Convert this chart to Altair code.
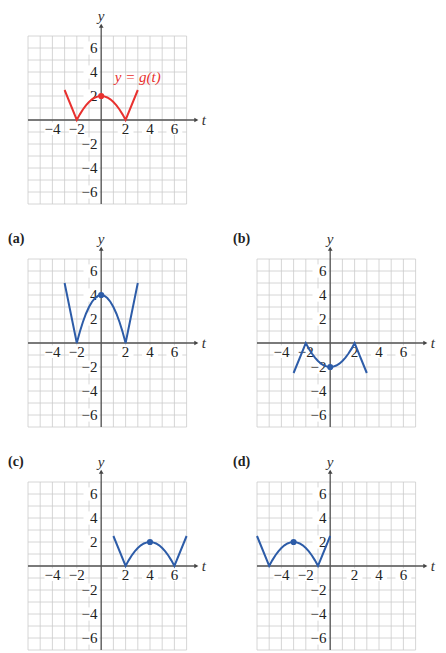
import altair as alt
import pandas as pd

# ---- data ----
g_t = [-3, -2, -1.75, -1.5, -1.25, -1, -0.75, -0.5, -0.25, 0, 0.25, 0.5, 0.75, 1, 1.25, 1.5, 1.75, 2, 3]
g_y = [2.5, 0, 0.47, 0.88, 1.22, 1.5, 1.72, 1.88, 1.97, 2, 1.97, 1.88, 1.72, 1.5, 1.22, 0.88, 0.47, 0, 2.5]

a_t = [-3, -2, -1.75, -1.5, -1.25, -1, -0.75, -0.5, -0.25, 0, 0.25, 0.5, 0.75, 1, 1.25, 1.5, 1.75, 2, 3]
a_y = [5, 0, 0.94, 1.75, 2.44, 3, 3.44, 3.75, 3.94, 4, 3.94, 3.75, 3.44, 3, 2.44, 1.75, 0.94, 0, 5]

b_t = [-3, -2, -1.75, -1.5, -1.25, -1, -0.75, -0.5, -0.25, 0, 0.25, 0.5, 0.75, 1, 1.25, 1.5, 1.75, 2, 3]
b_y = [-2.5, 0, -0.47, -0.88, -1.22, -1.5, -1.72, -1.88, -1.97, -2, -1.97, -1.88, -1.72, -1.5, -1.22, -0.88, -0.47, 0, -2.5]

c_t = [1, 2, 2.25, 2.5, 2.75, 3, 3.25, 3.5, 3.75, 4, 4.25, 4.5, 4.75, 5, 5.25, 5.5, 5.75, 6, 7]
c_y = [2.5, 0, 0.47, 0.88, 1.22, 1.5, 1.72, 1.88, 1.97, 2, 1.97, 1.88, 1.72, 1.5, 1.22, 0.88, 0.47, 0, 2.5]

d_t = [-6, -5, -4.75, -4.5, -4.25, -4, -3.75, -3.5, -3.25, -3, -2.75, -2.5, -2.25, -2, -1.75, -1.5, -1.25, -1, 0]
d_y = [2.5, 0, 0.47, 0.88, 1.22, 1.5, 1.72, 1.88, 1.97, 2, 1.97, 1.88, 1.72, 1.5, 1.22, 0.88, 0.47, 0, 2.5]

peaks = {"g": (0, 2), "a": (0, 4), "b": (0, -2), "c": (4, 2), "d": (-3, 2)}

x_ticks = [-4, -2, 2, 4, 6]
x_tick_labels = ["\u22124", "\u22122", "2", "4", "6"]
y_ticks = [6, 4, 2, -2, -4, -6]
y_tick_labels = ["6", "4", "2", "\u22122", "\u22124", "\u22126"]
grid_x = list(range(-6, 8))
grid_y = list(range(-7, 8))

RED = "#e8312f"
BLUE = "#2d5ca8"
UX = 12.2
UY = 12.0
FONT = "Liberation Serif"


def panel(ts, ys, peak, color, w, h, xoff, yoff, tag=None, tag_off=0, note=None):
    x0 = -6 - xoff / UX
    x1 = x0 + w / UX
    y1 = 7 + yoff / UY
    y0 = y1 - h / UY
    xs = alt.Scale(domain=[x0, x1], nice=False, zero=False)
    ysc = alt.Scale(domain=[y0, y1], nice=False, zero=False)

    def X(f):
        return alt.X(f, type="quantitative", scale=xs, axis=None)

    def Y(f):
        return alt.Y(f, type="quantitative", scale=ysc, axis=None)

    layers = []
    vg = pd.DataFrame({"x": grid_x, "y": -7, "y2": 7})
    layers.append(alt.Chart(vg).mark_rule(color="#cccccc", strokeWidth=0.8).encode(
        x=X("x"), y=Y("y"), y2="y2"))
    hg = pd.DataFrame({"y": grid_y, "x": -6, "x2": 7})
    layers.append(alt.Chart(hg).mark_rule(color="#cccccc", strokeWidth=0.8).encode(
        x=X("x"), x2="x2", y=Y("y")))

    # white boxes behind tick labels
    xb = pd.DataFrame({"x": [t - 0.65 for t in x_ticks], "x2": [t + 0.65 for t in x_ticks],
                       "y": -0.2, "y2": -1.25})
    layers.append(alt.Chart(xb).mark_rect(color="white").encode(
        x=X("x"), x2="x2", y=Y("y"), y2="y2"))
    yb = pd.DataFrame({"y": [t - 0.55 for t in y_ticks], "y2": [t + 0.55 for t in y_ticks],
                       "x": -1.45, "x2": -0.15})
    layers.append(alt.Chart(yb).mark_rect(color="white").encode(
        x=X("x"), x2="x2", y=Y("y"), y2="y2"))

    # axes
    ax = pd.DataFrame({"x": [-6], "x2": [7.8], "y": [0]})
    layers.append(alt.Chart(ax).mark_rule(color="#555555", strokeWidth=1.3).encode(
        x=X("x"), x2="x2", y=Y("y")))
    ay = pd.DataFrame({"y": [-7], "y2": [7.85], "x": [0]})
    layers.append(alt.Chart(ay).mark_rule(color="#555555", strokeWidth=1.3).encode(
        x=X("x"), y=Y("y"), y2="y2"))
    layers.append(alt.Chart(pd.DataFrame({"x": [7.8], "y": [0]})).mark_point(
        shape="triangle-right", filled=True, color="#444444", size=22, opacity=1).encode(
        x=X("x"), y=Y("y")))
    layers.append(alt.Chart(pd.DataFrame({"x": [0], "y": [7.85]})).mark_point(
        shape="triangle-up", filled=True, color="#444444", size=22, opacity=1).encode(
        x=X("x"), y=Y("y")))

    # tick labels
    xl = pd.DataFrame({"x": x_ticks, "y": -0.72, "lab": x_tick_labels})
    layers.append(alt.Chart(xl).mark_text(font=FONT, fontSize=15, color="#222222",
                                          baseline="middle", align="center").encode(
        x=X("x"), y=Y("y"), text="lab:N"))
    yl = pd.DataFrame({"y": y_ticks, "x": -0.3, "lab": y_tick_labels})
    layers.append(alt.Chart(yl).mark_text(font=FONT, fontSize=15, color="#222222",
                                          baseline="middle", align="right").encode(
        x=X("x"), y=Y("y"), text="lab:N"))

    # axis names
    layers.append(alt.Chart(pd.DataFrame({"x": [8.25], "y": [0], "lab": ["t"]})).mark_text(
        font=FONT, fontSize=15, fontStyle="italic", color="#333333",
        baseline="middle", align="left").encode(x=X("x"), y=Y("y"), text="lab:N"))
    layers.append(alt.Chart(pd.DataFrame({"x": [0], "y": [8.7], "lab": ["y"]})).mark_text(
        font=FONT, fontSize=15, fontStyle="italic", color="#333333",
        baseline="middle", align="center").encode(x=X("x"), y=Y("y"), text="lab:N"))

    # curve
    cd = pd.DataFrame({"t": ts, "v": ys, "i": list(range(len(ts)))})
    layers.append(alt.Chart(cd).mark_line(color=color, strokeWidth=2).encode(
        x=X("t"), y=Y("v"), order="i:Q"))
    layers.append(alt.Chart(pd.DataFrame({"t": [peak[0]], "v": [peak[1]]})).mark_circle(
        color=color, size=38, opacity=1).encode(x=X("t"), y=Y("v")))

    if note is not None:
        layers.append(alt.Chart(pd.DataFrame({"x": [3.0], "y": [3.6], "lab": [note]})).mark_text(
            font=FONT, fontSize=15, fontStyle="italic", color=color,
            baseline="middle", align="center").encode(x=X("x"), y=Y("y"), text="lab:N"))
    if tag is not None:
        layers.append(alt.Chart(pd.DataFrame({"x": [x0 + tag_off / UX], "y": [8.65], "lab": [tag]})).mark_text(
            font=FONT, fontSize=14, fontWeight="bold", color="#222222",
            baseline="middle", align="left").encode(x=X("x"), y=Y("y"), text="lab:N"))

    return alt.layer(*layers).properties(width=w, height=h)


W = 215
top = panel(g_t, g_y, peaks["g"], RED, W, 220, 20, 25, note="y = g(t)")
blank = alt.Chart(pd.DataFrame({"x": [0], "y": [0]})).mark_point(opacity=0).encode(
    x=alt.X("x:Q", axis=None), y=alt.Y("y:Q", axis=None)).properties(width=W, height=220)
pa = panel(a_t, a_y, peaks["a"], BLUE, W, 220, 20, 25, tag="(a)", tag_off=0)
pb = panel(b_t, b_y, peaks["b"], BLUE, W, 220, 34, 25, tag="(b)", tag_off=10)
pc = panel(c_t, c_y, peaks["c"], BLUE, W, 197, 20, 27, tag="(c)", tag_off=0)
pd_ = panel(d_t, d_y, peaks["d"], BLUE, W, 197, 34, 27, tag="(d)", tag_off=10)

chart = alt.concat(
    top, blank, pa, pb, pc, pd_, columns=2, spacing=0
).properties(padding=0).configure_view(stroke=None)

chart.save("out.html", embed_options={"renderer": "svg", "actions": False})
